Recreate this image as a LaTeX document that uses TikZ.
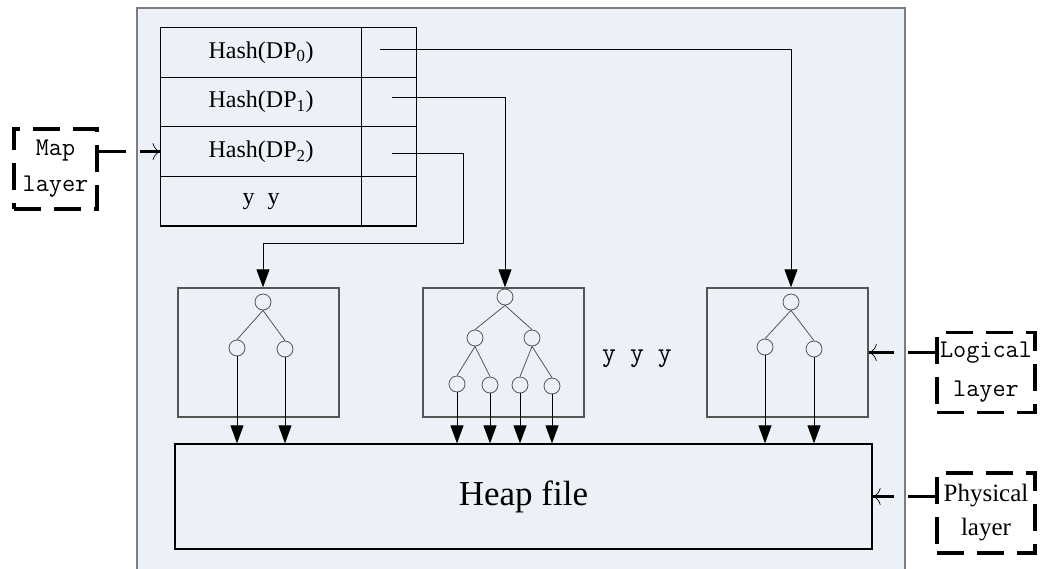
\documentclass[tikz,border=0pt]{standalone}
\usepackage{fontspec}
\setmainfont{Liberation Serif}
\usetikzlibrary{matrix,arrows.meta,positioning}

\definecolor{panelbg}{RGB}{236,240,247}
\definecolor{framegray}{RGB}{125,125,125}
\definecolor{boxgray}{RGB}{85,85,85}

\tikzset{
    ptr/.style={line width=0.9pt, -{Triangle[length=18pt,width=13pt]}},
    treebox/.style={draw=boxgray, line width=1.4pt, minimum width=161pt, minimum height=129pt, inner sep=0pt},
    tnode/.style={circle, draw=boxgray, line width=0.8pt, fill=panelbg, minimum size=16pt, inner sep=0pt},
    tedge/.style={draw=boxgray, line width=0.8pt},
    layerbox/.style={draw, line width=3.5pt, dash pattern=on 27pt off 13pt, minimum height=80pt, inner sep=0pt, align=center},
    labarrow/.style={line width=3pt, dash pattern=on 27pt off 14pt, -{To[length=8pt,width=17pt,line width=0.7pt 0]}},
}

\begin{document}
\begin{tikzpicture}[x=1pt, y=-1pt]
    \useasboundingbox (0,0) rectangle (1041,568);
    \clip (0,0) rectangle (1041,568);
    % outer frame, runs off the bottom
    \draw[framegray, line width=1.5pt, fill=panelbg] (137,8) rectangle (905,590);

    \matrix(hashtab)[matrix of nodes, nodes in empty cells, anchor=north west,
        inner sep=0pt, outer sep=0pt, column sep=-1.2pt, row sep=-1.2pt,
        nodes={draw, line width=1.2pt, anchor=center, minimum height=49.6pt, inner sep=0pt, outer sep=0pt,
            font=\fontsize{24}{28}\selectfont},
        column 1/.style={nodes={minimum width=201pt}},
        column 2/.style={nodes={minimum width=55pt}},
    ] at (160,27) {
        Hash(DP\textsubscript{0}) & \\
        Hash(DP\textsubscript{1}) & \\
        Hash(DP\textsubscript{2}) & \\
        y\hspace{13pt}y & \\
    };

    % index trees
    \node[treebox] (t1box) at (258.5,352.5) {};
    \node[treebox] (t2box) at (503.5,352.5) {};
    \node[treebox] (t3box) at (787.5,352.5) {};

    \node[tnode] (t1r) at (263,302) {};
    \node[tnode] (t1a) at (237,348) {};
    \node[tnode] (t1b) at (285,349) {};
    \node[tnode] (t2r) at (505,297) {};
    \node[tnode] (t2a) at (475,338) {};
    \node[tnode] (t2b) at (532,338) {};
    \node[tnode] (t2c) at (457,384) {};
    \node[tnode] (t2d) at (490,385) {};
    \node[tnode] (t2e) at (520,385) {};
    \node[tnode] (t2f) at (552,386) {};
    \node[tnode] (t3r) at (791,302) {};
    \node[tnode] (t3a) at (765,347) {};
    \node[tnode] (t3b) at (814,349) {};
    \foreach \p/\c in {t1r/t1a, t1r/t1b, t2r/t2a, t2r/t2b, t2a/t2c, t2a/t2d, t2b/t2e, t2b/t2f, t3r/t3a, t3r/t3b}
        \draw[tedge] (\p.south) -- (\c.north);

    \node[font=\ttfamily\fontsize{27}{30}\selectfont] (more) at (637,359) {y y y};

    \node[draw, line width=1.2pt, minimum width=697pt, minimum height=105pt,
        font=\fontsize{35}{40}\selectfont] (heap) at (523.5,496.5) {Heap file};

    \foreach \c in {t1a,t1b,t2c,t2d,t2e,t2f,t3a,t3b}
        \draw[ptr] (\c.south) -- (\c |- heap.north);

    % pointers out of the hash table
    \coordinate (p0) at (380,49);
    \coordinate (p1) at (392,97);
    \coordinate (p2) at (392,153);
    \coordinate (bend) at (463,243);
    \draw[ptr] (p0) -| (t3r |- t3box.north);
    \draw[ptr] (p1) -| (t2r |- t2box.north);
    \draw[ptr] (p2) -| (bend) -| (t1r |- t1box.north);

    % layer labels
    \node[layerbox, minimum width=83pt, font=\ttfamily\fontsize{25.5}{36}\selectfont] (maplab) at (55.5,169) {Map\\layer};
    \node[layerbox, minimum width=98pt, font=\ttfamily\fontsize{25.5}{39}\selectfont] (loglab) at (986,372.5) {Logical\\layer};
    \node[layerbox, minimum width=98pt, font=\fontsize{25}{34}\selectfont] (phylab) at (986,513) {Physical\\layer};

    \draw[labarrow] (maplab.east |- hashtab-3-1) -- (hashtab-3-1.west);
    \draw[labarrow] (loglab.west |- t3box.east) -- (t3box.east);
    \draw[labarrow] (phylab.west |- heap.east) -- (heap.east);
\end{tikzpicture}
\end{document}
